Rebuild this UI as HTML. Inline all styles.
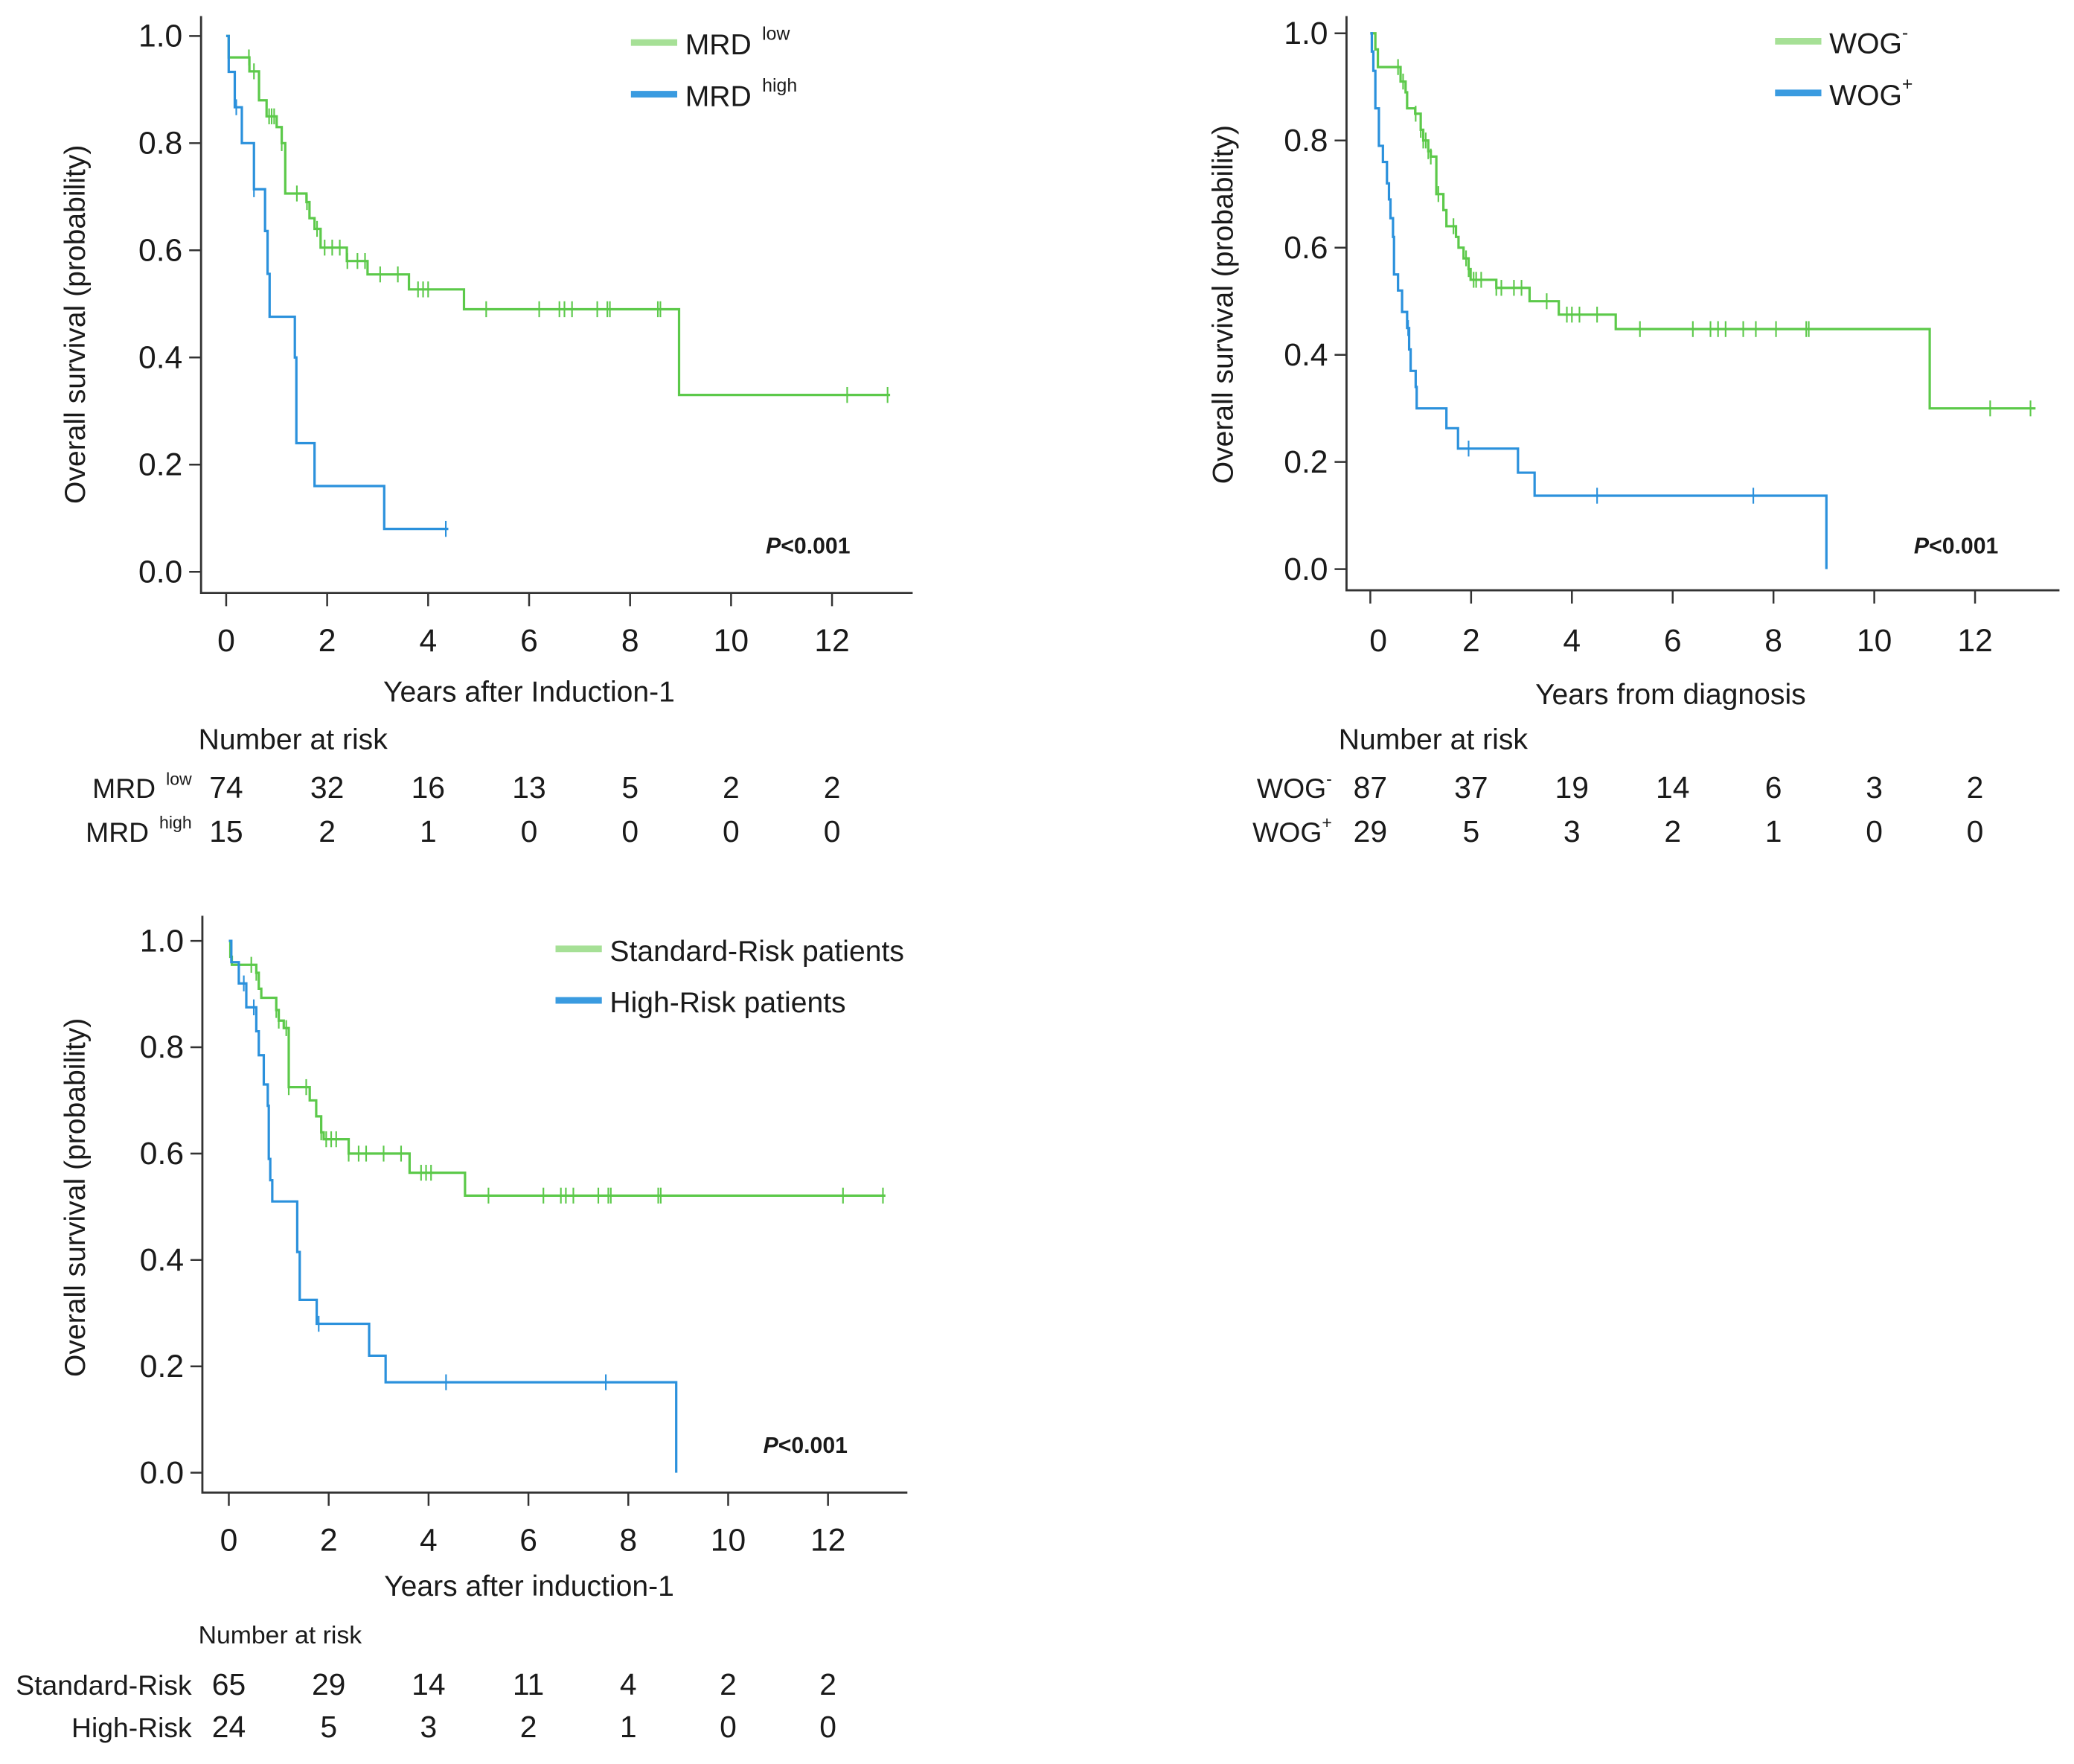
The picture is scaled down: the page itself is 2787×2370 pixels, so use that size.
<!DOCTYPE html>
<html><head><meta charset="utf-8"><style>
html,body{margin:0;padding:0;background:#fff}
svg{display:block}
text{font-family:"Liberation Sans",sans-serif;fill:#1a1a1a}
</style></head><body>
<svg id="fig" width="2787" height="2370" viewBox="0 0 1568 1333" xmlns="http://www.w3.org/2000/svg"></svg>
<script>
// ---------- data ----------
const xTickLabels = [0,2,4,6,8,10,12];
const yTickLabels = ["0.0","0.2","0.4","0.6","0.8","1.0"];
// Panel A: MRD
const mrdLowTimes = [0.05,0.46,0.65,0.8,1.0,1.1,1.17,1.59,1.65,1.75,1.87,2.39,2.8,3.62,4.71,8.97];
const mrdLowSurv  = [0.96,0.934,0.88,0.85,0.83,0.80,0.706,0.69,0.66,0.64,0.605,0.58,0.555,0.527,0.49,0.33];
const mrdLowEnd = 13.15;
const mrdLowCens = [0.45,0.55,0.85,0.9,0.95,1.1,1.4,1.6,1.8,1.95,2.1,2.25,2.4,2.6,2.75,3.05,3.4,3.8,3.9,4.0,5.15,6.2,6.6,6.7,6.85,7.35,7.55,7.6,8.55,8.6,12.3,13.1];
const mrdHighTimes = [0.05,0.17,0.31,0.55,0.77,0.82,0.86,1.36,1.39,1.75,3.13];
const mrdHighSurv  = [0.933,0.867,0.80,0.714,0.636,0.556,0.476,0.40,0.24,0.16,0.08];
const mrdHighEnd = 4.4;
const mrdHighCens = [0.2,0.55,4.35];
const mrdRiskLow = [74,32,16,13,5,2,2];
const mrdRiskHigh = [15,2,1,0,0,0,0];
// Panel B: WOG
const wogNegTimes = [0.1,0.15,0.6,0.7,0.73,0.89,1.0,1.05,1.15,1.2,1.31,1.45,1.51,1.7,1.75,1.85,1.95,1.99,2.5,3.16,3.74,4.87,11.1];
const wogNegSurv  = [0.97,0.937,0.91,0.89,0.86,0.85,0.82,0.80,0.78,0.77,0.70,0.67,0.64,0.62,0.60,0.58,0.56,0.54,0.525,0.50,0.475,0.448,0.30];
const wogNegEnd = 13.2;
const wogNegCens = [0.55,0.65,0.9,1.0,1.05,1.1,1.15,1.2,1.35,1.65,1.9,1.95,2.05,2.1,2.2,2.5,2.6,2.85,3.0,3.5,3.9,4.0,4.15,4.5,5.35,6.4,6.75,6.9,7.05,7.4,7.65,8.05,8.65,8.7,12.3,13.1];
const wogPosTimes = [0.03,0.06,0.1,0.17,0.25,0.33,0.37,0.4,0.45,0.47,0.55,0.63,0.73,0.77,0.8,0.9,0.92,1.51,1.74,2.93,3.26,9.05];
const wogPosSurv  = [0.966,0.93,0.86,0.79,0.76,0.72,0.69,0.655,0.62,0.55,0.52,0.48,0.45,0.41,0.37,0.34,0.30,0.263,0.225,0.18,0.137,0.0];
const wogPosEnd = 9.05;
const wogPosCens = [0.75,1.95,4.5,7.6];
const wogRiskNeg = [87,37,19,14,6,3,2];
const wogRiskPos = [29,5,3,2,1,0,0];
// Panel C: risk groups
const srTimes = [0.03,0.06,0.55,0.6,0.65,0.95,1.0,1.1,1.2,1.62,1.75,1.85,1.9,2.4,3.62,4.73];
const srSurv  = [0.97,0.955,0.94,0.91,0.893,0.87,0.85,0.836,0.725,0.70,0.67,0.64,0.627,0.60,0.564,0.521];
const srEnd = 13.15;
const srCens = [0.45,0.55,0.95,1.0,1.15,1.2,1.55,1.85,1.95,2.05,2.15,2.4,2.6,2.75,3.1,3.45,3.85,3.95,4.05,5.2,6.3,6.65,6.75,6.9,7.4,7.6,7.65,8.6,8.65,12.3,13.1];
const hrTimes = [0.05,0.2,0.35,0.55,0.6,0.7,0.78,0.8,0.83,0.87,1.37,1.42,1.76,2.81,3.14,8.96];
const hrSurv  = [0.96,0.92,0.875,0.83,0.785,0.73,0.69,0.59,0.55,0.51,0.415,0.325,0.28,0.22,0.17,0.0];
const hrEnd = 8.96;
const hrCens = [0.3,0.5,1.8,4.35,7.55];
const srRisk = [65,29,14,11,4,2,2];
const hrRisk = [24,5,3,2,1,0,0];

// ---------- drawing ----------
const NS="http://www.w3.org/2000/svg";
const svg=document.getElementById('fig');
function mk(tag,attrs,parent){const e=document.createElementNS(NS,tag);for(const k in attrs)e.setAttribute(k,attrs[k]);(parent||svg).appendChild(e);return e;}
function txt(s,attrs,parent){const e=mk('text',attrs,parent);e.textContent=s;return e;}
const GREEN="#5cc94a", BLUE="#2b91dc", AX="#333";

function survAt(times,surv,t){let v=1;for(let i=0;i<times.length;i++){if(times[i]<=t)v=surv[i];}return v;}

function panel(cfg){
  const g=mk('g',{});
  
  
  const X=t=>cfg.x0+t*cfg.kx, Y=p=>cfg.y0-p*cfg.ky;
  const ax=mk('path',{d:`M${cfg.axX},${cfg.top}V${cfg.axY}H${cfg.axRight}`,fill:'none',stroke:AX,'stroke-width':1.6},g);
  
  yTickLabels.forEach((lab,i)=>{const p=i*0.2;
    const tk=mk('line',{x1:cfg.axX-9,x2:cfg.axX,y1:Y(p),y2:Y(p),stroke:AX,'stroke-width':1.4},g);
    
    const tl=txt(lab,{x:cfg.axX-14,y:Y(p)+8,'text-anchor':'end','font-size':24},g);
    
  });
  xTickLabels.forEach((lab,i)=>{
    const tk=mk('line',{x1:X(lab),x2:X(lab),y1:cfg.axY,y2:cfg.axY+10,stroke:AX,'stroke-width':1.4},g);
    
    const tl=txt(String(lab),{x:X(lab)+(i===0?cfg.zeroOff:0),y:cfg.xLabY,'text-anchor':'middle','font-size':24},g);
    
  });
  const yt=txt('Overall survival (probability)',{x:0,y:0,'text-anchor':'middle','font-size':22,transform:`translate(${cfg.yTitleX},${cfg.yTitleY}) rotate(-90)`},g);
  
  const xt=txt(cfg.xTitle,{x:cfg.xTitleX,y:cfg.xTitleY,'text-anchor':'middle','font-size':22},g);
  
  cfg.series.forEach(s=>{
    let d=`M${X(0)},${Y(1)}`;
    s.times.forEach((t,i)=>{d+=`H${X(t)}V${Y(s.surv[i])}`;});
    d+=`H${X(s.end)}`;
    const pth=mk('path',{d,fill:'none',stroke:s.color,'stroke-width':1.8},g);
    
    s.cens.forEach(t=>{const v=survAt(s.times,s.surv,t);
      const c=mk('line',{x1:X(t),x2:X(t),y1:Y(v)-6,y2:Y(v)+6,stroke:s.color,'stroke-width':1.2},g);
      
    });
  });
  cfg.series.forEach((s,i)=>{
    const ly=cfg.legY+i*39;
    const ln=mk('line',{x1:cfg.legX,x2:cfg.legX+35,y1:ly,y2:ly,stroke:s.legColor,'stroke-width':5},g);
    
    const lt=mk('text',{x:cfg.legX+41,y:ly+9,'font-size':22},g);
    
    lt.appendChild(document.createTextNode(s.label));
    if(s.sup){const ts=mk('tspan',{'font-size':14,dy:-11,dx:s.supDx},lt);ts.textContent=s.sup;}
  });
  const pv=mk('text',{x:cfg.pX,y:cfg.pY,'font-size':17,'font-weight':'bold'},g);
  
  const pi=mk('tspan',{'font-style':'italic'},pv);pi.textContent='P';
  const pr=mk('tspan',{},pv);pr.textContent='<0.001';
  const nr=txt('Number at risk',{x:cfg.narX,y:cfg.narY,'font-size':cfg.narSize},g);
  
  cfg.series.forEach((s,i)=>{
    const ry=cfg.riskY+i*cfg.riskDy;
    const rl=mk('text',{x:cfg.riskLabX,y:ry,'text-anchor':'end','font-size':21},g);
    
    rl.appendChild(document.createTextNode(s.rowLabel));
    if(s.sup){const ts=mk('tspan',{'font-size':13,dy:-10,dx:s.supDx},rl);ts.textContent=s.sup;}
    s.risk.forEach((n,j)=>{
      const c=txt(String(n),{x:X(xTickLabels[j]),y:ry,'text-anchor':'middle','font-size':23},g);
      
    });
  });
}

panel({name:'panel-mrd',x0:171,kx:38.17,y0:432,ky:405,axX:152,axY:448,top:12,axRight:690,xLabY:492,zeroOff:0,
  yTitleX:64,yTitleY:245,xTitle:'Years after Induction-1',xTitleX:400,xTitleY:530,
  legX:477,legY:32,pX:579,pY:418,narX:150,narY:566,narSize:22,riskY:603,riskDy:33,riskLabX:145,
  series:[
    {key:'mrd-low',times:mrdLowTimes,surv:mrdLowSurv,end:mrdLowEnd,cens:mrdLowCens,color:GREEN,legColor:'#a6e096',label:'MRD ',sup:'low',supDx:2,rowLabel:'MRD ',risk:mrdRiskLow},
    {key:'mrd-high',times:mrdHighTimes,surv:mrdHighSurv,end:mrdHighEnd,cens:mrdHighCens,color:BLUE,legColor:'#3a9be0',label:'MRD ',sup:'high',supDx:2,rowLabel:'MRD ',risk:mrdRiskHigh}
  ]});
panel({name:'panel-wog',x0:1036,kx:38.1,y0:430,ky:405,axX:1018,axY:446,top:12,axRight:1557,xLabY:492,zeroOff:6,
  yTitleX:932,yTitleY:230,xTitle:'Years from diagnosis',xTitleX:1263,xTitleY:532,
  legX:1342,legY:31,pX:1447,pY:418,narX:1012,narY:566,narSize:22,riskY:603,riskDy:33,riskLabX:1007,
  series:[
    {key:'wog-neg',times:wogNegTimes,surv:wogNegSurv,end:wogNegEnd,cens:wogNegCens,color:GREEN,legColor:'#a6e096',label:'WOG',sup:'-',supDx:0,rowLabel:'WOG',risk:wogRiskNeg},
    {key:'wog-pos',times:wogPosTimes,surv:wogPosSurv,end:wogPosEnd,cens:wogPosCens,color:BLUE,legColor:'#3a9be0',label:'WOG',sup:'+',supDx:0,rowLabel:'WOG',risk:wogRiskPos}
  ]});
panel({name:'panel-risk',x0:173,kx:37.75,y0:1113,ky:402,axX:153,axY:1128,top:692,axRight:686,xLabY:1172,zeroOff:0,
  yTitleX:64,yTitleY:905,xTitle:'Years after induction-1',xTitleX:400,xTitleY:1206,
  legX:420,legY:717,pX:577,pY:1098,narX:150,narY:1242,narSize:19,riskY:1281,riskDy:32,riskLabX:145,
  series:[
    {key:'standard-risk',times:srTimes,surv:srSurv,end:srEnd,cens:srCens,color:GREEN,legColor:'#a6e096',label:'Standard-Risk patients',rowLabel:'Standard-Risk',risk:srRisk},
    {key:'high-risk',times:hrTimes,surv:hrSurv,end:hrEnd,cens:hrCens,color:BLUE,legColor:'#3a9be0',label:'High-Risk patients',rowLabel:'High-Risk',risk:hrRisk}
  ]});
</script>
</body></html>
